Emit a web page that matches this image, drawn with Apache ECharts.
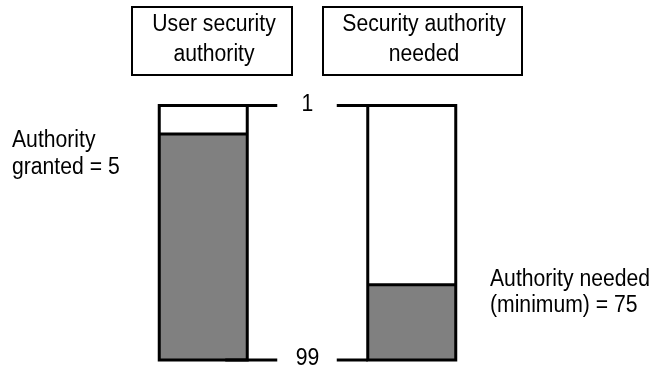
<!DOCTYPE html>
<html>
<head>
<meta charset="utf-8">
<script src="https://cdn.jsdelivr.net/npm/echarts@6/dist/echarts.min.js"></script>
<style>
  html, body { margin: 0; padding: 0; background: #fff; }
  #chart { width: 654px; height: 370px; }
</style>
</head>
<body>
<div id="chart"></div>
<script>
  // columns (header boxes)
  const columns = ['User security\nauthority', 'Security authority\nneeded'];
  // scale, 1 at the top, 99 at the bottom
  const scaleTicks = [1, 99];
  // where the grey part begins, as drawn (the drawing is not to scale)
  const drawnLevels = [12, 70];
  // the values written next to the bars
  const authorityValues = [5, 75];
  const sideLabels = [
    'Authority\ngranted = ' + authorityValues[0],
    'Authority needed\n(minimum) = ' + authorityValues[1]
  ];

  // no condensed font installed, so squeeze Liberation Sans a bit
  const FONT = '23px "Liberation Sans", Arial, sans-serif';
  const SQUEEZE = 0.92;

  const chart = echarts.init(document.getElementById('chart'));

  function textEl(x, y, text, align, lineHeight) {
    return {
      type: 'text', x: x, y: y, scaleX: SQUEEZE,
      style: { text: text, font: FONT, fill: '#000', align: align,
        verticalAlign: 'middle', lineHeight: lineHeight }
    };
  }

  const option = {
    backgroundColor: '#fff',
    animation: false,
    grid: { left: 99, right: 138, top: 105.5, bottom: 10 },
    xAxis: {
      type: 'category',
      data: [0, 1],
      show: false
    },
    yAxis: {
      type: 'value',
      inverse: true,
      min: scaleTicks[0],
      max: scaleTicks[1],
      show: false
    },
    graphic: [
      // header boxes
      { type: 'rect', shape: { x: 132, y: 7, width: 160, height: 68 },
        style: { fill: '#fff', stroke: '#000', lineWidth: 2 } },
      textEl(214, 40, columns[0], 'center', 30),
      { type: 'rect', shape: { x: 323, y: 7, width: 199, height: 68 },
        style: { fill: '#fff', stroke: '#000', lineWidth: 2 } },
      textEl(424, 40, columns[1], 'center', 30),
      // side notes
      textEl(12, 154, sideLabels[0], 'left', 27),
      textEl(490, 293, sideLabels[1], 'left', 26)
    ],
    series: [
      {
        // the two columns
        type: 'custom',
        data: drawnLevels.map((v, i) => [i, v]),
        renderItem: function (params, api) {
          const idx = api.value(0);
          const cx = api.coord([idx, scaleTicks[0]])[0];
          const top = api.coord([idx, scaleTicks[0]])[1];
          const bot = api.coord([idx, scaleTicks[1]])[1];
          const lvl = api.coord([idx, api.value(1)])[1];
          const half = 44;
          return {
            type: 'group',
            children: [
              { type: 'rect', shape: { x: cx - half, y: lvl, width: half * 2, height: bot - lvl },
                style: { fill: '#808080' } },
              { type: 'rect', shape: { x: cx - half, y: top, width: half * 2, height: bot - top },
                style: { fill: 'none', stroke: '#000', lineWidth: 3 } },
              { type: 'line', shape: { x1: cx - half, y1: lvl, x2: cx + half, y2: lvl },
                style: { stroke: '#000', lineWidth: 3 } }
            ]
          };
        }
      },
      {
        // scale marks between the columns
        type: 'custom',
        data: scaleTicks.map(v => [v]),
        renderItem: function (params, api) {
          const v = api.value(0);
          const p0 = api.coord([0, v]);
          const p1 = api.coord([1, v]);
          const mid = (p0[0] + p1[0]) / 2;
          return {
            type: 'group',
            children: [
              { type: 'line', shape: { x1: p0[0] + 22, y1: p0[1], x2: p0[0] + 74, y2: p0[1] },
                style: { stroke: '#000', lineWidth: 3 } },
              { type: 'line', shape: { x1: p1[0] - 75, y1: p1[1], x2: p1[0] - 44, y2: p1[1] },
                style: { stroke: '#000', lineWidth: 3 } },
              textEl(mid, p0[1] - 1, String(v), 'center', 26)
            ]
          };
        }
      }
    ]
  };

  chart.setOption(option);
</script>
</body>
</html>
